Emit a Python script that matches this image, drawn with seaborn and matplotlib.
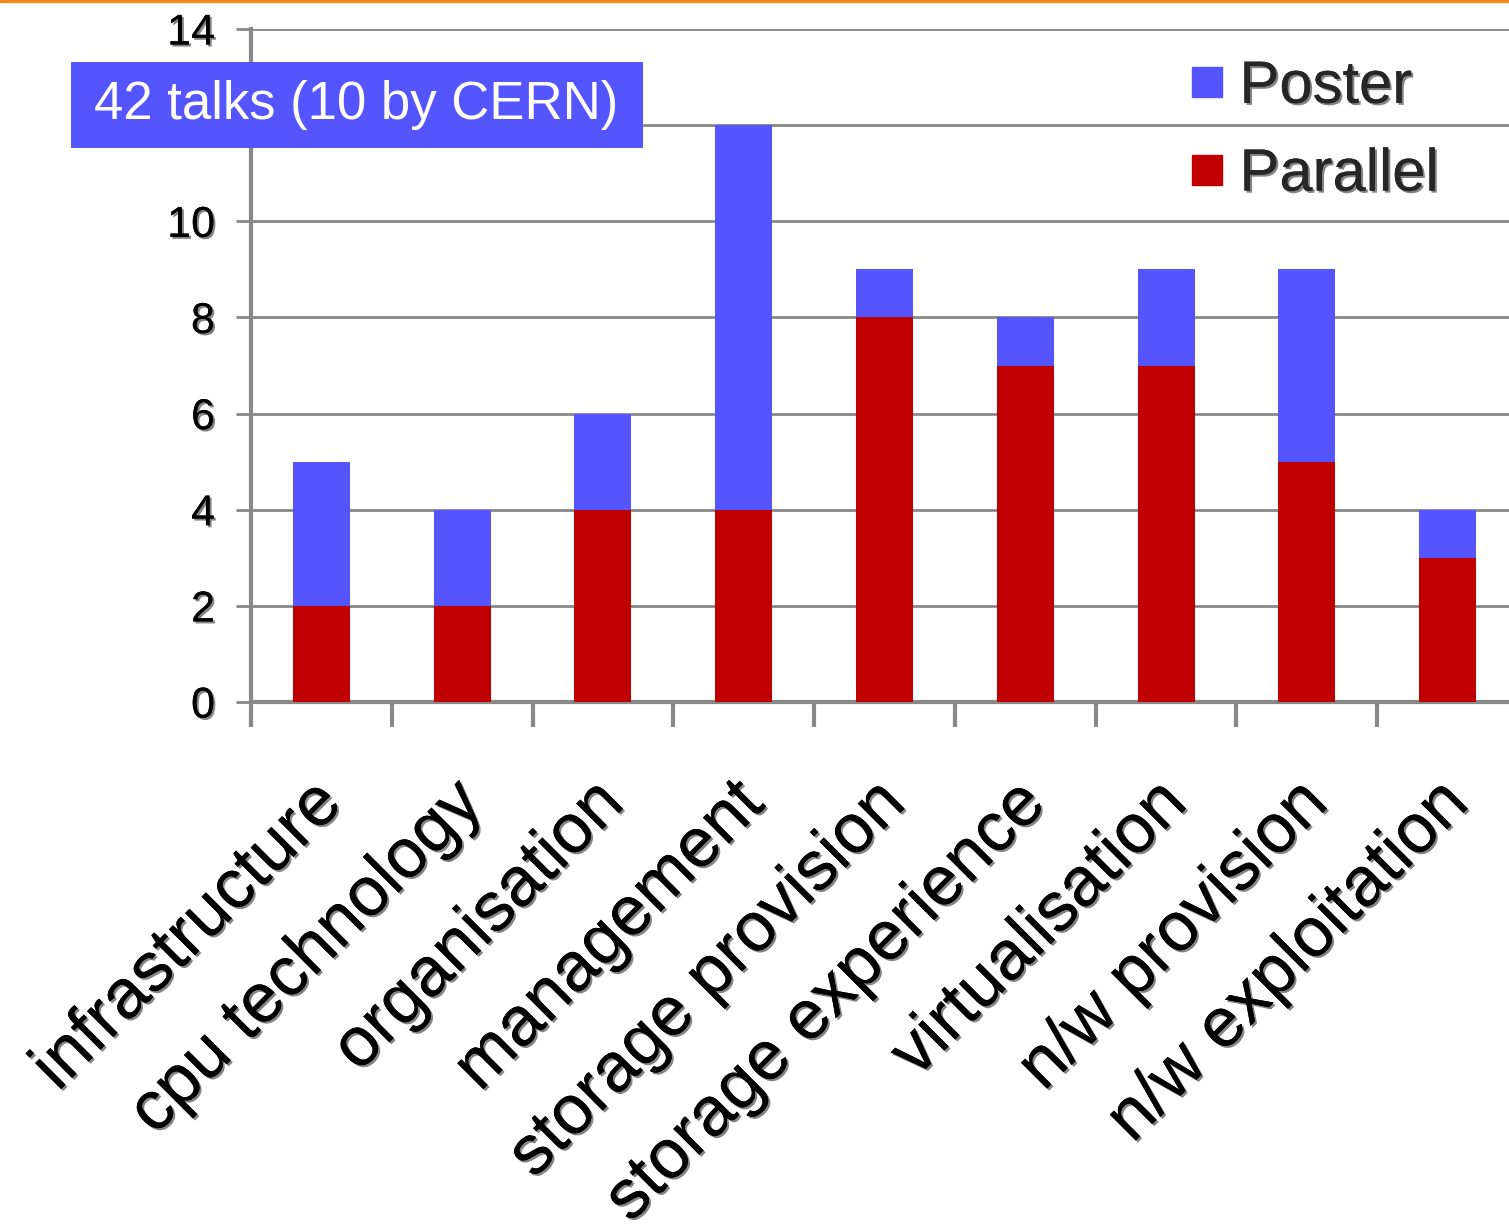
import matplotlib
matplotlib.use("Agg")
import matplotlib.pyplot as plt
import matplotlib.patheffects as pe
from matplotlib.lines import Line2D
from matplotlib.patches import Rectangle
from matplotlib.transforms import ScaledTranslation
import seaborn as sns
import pandas as pd
import numpy as np

categories = ["infrastructure", "cpu technology", "organisation", "management",
              "storage provision", "storage experience", "virtualisation",
              "n/w provision", "n/w exploitation"]
parallel = [2, 2, 4, 4, 8, 7, 7, 5, 3]
poster = [3, 2, 2, 8, 1, 1, 2, 4, 1]
y_ticks = [0, 2, 4, 6, 8, 10, 12, 14]

RED = "#C00000"
BLUE = "#5555FF"
GRID = "#888888"

sns.set_theme(style="white")
plt.rcParams["font.family"] = ["Liberation Sans", "DejaVu Sans"]

df = pd.DataFrame({"category": categories, "Parallel": parallel, "Poster": poster})
df["Total"] = df["Parallel"] + df["Poster"]

W, H = 1509, 1227
fig = plt.figure(figsize=(W / 100, H / 100), dpi=100)
ax = fig.add_axes([251 / W, (H - 702) / H, 1267 / W, (702 - 29) / H])

shadow = [pe.withSimplePatchShadow(offset=(1.5, -1.5), shadow_rgbFace="#333333", alpha=0.6), pe.Normal()]

sns.barplot(data=df, x="category", y="Total", color=BLUE, saturation=1, width=0.405,
            ax=ax, zorder=3, linewidth=0)
sns.barplot(data=df, x="category", y="Parallel", color=RED, saturation=1, width=0.405,
            ax=ax, zorder=4, linewidth=0)

ax.set_xlim(-0.5, len(categories) - 0.5)
ax.set_ylim(0, 14)
ax.set_yticks(y_ticks)
ax.set_yticklabels([str(v) for v in y_ticks], fontsize=31, color="black")
for lab in ax.get_yticklabels():
    lab.set_path_effects(shadow)
ax.yaxis.grid(True, color=GRID, linewidth=2, zorder=0)
ax.set_axisbelow(True)
ax.tick_params(axis="y", length=11, width=2, color=GRID, pad=15, left=True)

ax.set_xticks(np.arange(len(categories)))
ax.set_xticklabels(categories, rotation=45, ha="right", rotation_mode="anchor",
                   fontsize=50, color="black")
ax.tick_params(axis="x", which="major", length=0, pad=49)
ax.set_xticks(np.arange(-0.5, len(categories), 1.0), minor=True)
ax.tick_params(axis="x", which="minor", length=18, width=3, color=GRID, bottom=True)
shift = ScaledTranslation(-12 / 100, 0, fig.dpi_scale_trans)
for lab in ax.get_xticklabels():
    lab.set_path_effects(shadow)
    lab.set_transform(lab.get_transform() + shift)
ax.set_xlabel("")
ax.set_ylabel("")

for s in ["top", "right"]:
    ax.spines[s].set_visible(False)
for s in ["left", "bottom"]:
    ax.spines[s].set_color(GRID)
    ax.spines[s].set_linewidth(3)
ax.spines["left"].set_bounds(0, 14)

# legend
handles = [Line2D([], [], marker="s", linestyle="none", markersize=22, color=BLUE),
           Line2D([], [], marker="s", linestyle="none", markersize=22, color=RED)]
leg = fig.legend(handles, ["Poster", "Parallel"], loc="upper left",
                 bbox_to_anchor=(1138 / W, 1 - 6 / H), frameon=False,
                 fontsize=43, handlelength=0.5, handletextpad=0.3, labelspacing=0.55)
for t in leg.get_texts():
    t.set_path_effects(shadow)

# annotation box
fig.patches.append(Rectangle((71 / W, 1 - 148 / H), (643 - 71) / W, (148 - 62) / H,
                             transform=fig.transFigure, facecolor=BLUE, edgecolor="none",
                             zorder=5))
fig.text(356 / W, 1 - 105 / H, "42 talks (10 by CERN)", color="white", fontsize=38,
         ha="center", va="center", zorder=6)

# orange line at top
fig.add_artist(Line2D([0, 1], [1 - 1 / H, 1 - 1 / H], transform=fig.transFigure,
                      color="#F08A20", linewidth=2.5))

fig.savefig("out.png", dpi=100, facecolor="white")
